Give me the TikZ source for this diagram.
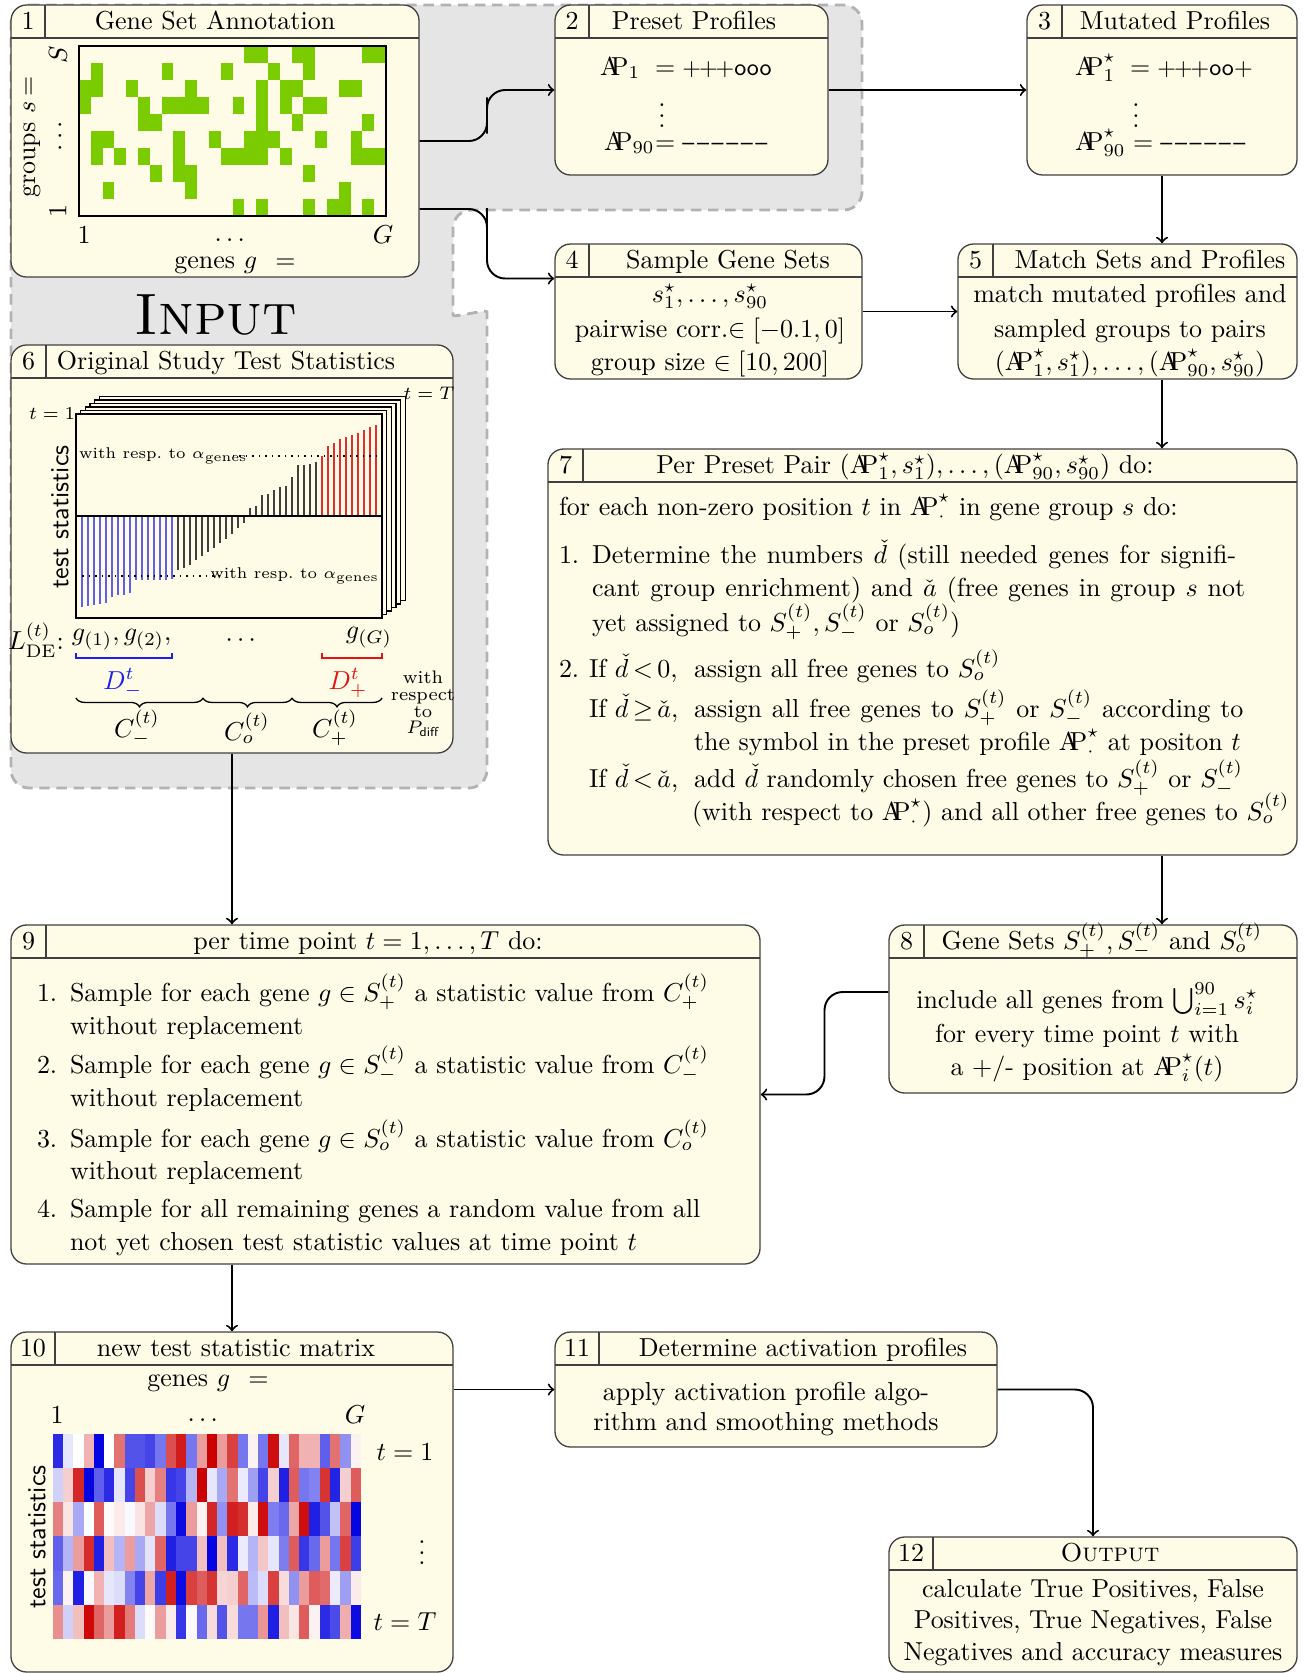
\documentclass[tikz,border=0pt]{standalone}
\usepackage{amsmath,amssymb}
\usepackage{fontspec}
\usetikzlibrary{fit,calc,decorations.pathreplacing}
\definecolor{boxfill}{RGB}{254,251,231}
\definecolor{inputgray}{RGB}{229,229,229}
\definecolor{dashgray}{RGB}{178,178,178}
\definecolor{gsgreen}{RGB}{122,204,0}
\definecolor{hmblue}{RGB}{5,5,225}
\definecolor{hmred}{RGB}{204,0,0}
\definecolor{barblue}{RGB}{95,95,235}
\definecolor{barred}{RGB}{228,45,45}
\definecolor{lblblue}{RGB}{30,30,240}
\definecolor{lblred}{RGB}{225,20,20}
\newcommand{\APs}{\mathrm{A\mkern-6mu P}}
\newcommand{\dashes}{\textsf{\small\textendash\kern1pt\textendash\kern1pt\textendash\kern1pt\textendash\kern1pt\textendash\kern1pt\textendash}}
\newcommand{\procbox}[9]{%
  \node[pbox, fit={(#2,#3) (#4,#5)}] (#1) {};
  \draw[pline] (#2,#3+33) -- (#4,#3+33);
  \draw[pline] (#6,#3) -- (#6,#3+33);
  \node[txt, anchor=base] (#1num) at ({(#2+#6)/2},#3+24.5) {#7};
  \node[txt, anchor=base] (#1tit) at (#8,#3+24.5) {#9};
}
\begin{document}
\begin{tikzpicture}[x=0.385pt,y=-0.385pt,
  pbox/.style={draw=black!75, fill=boxfill, rounded corners=6pt, inner sep=0pt, line width=0.5pt},
  pline/.style={draw=black!75, line width=0.5pt},
  txt/.style={inner sep=0pt, outer sep=0pt},
  conn/.style={->, line width=0.75pt, black},
  lw/.style={txt, anchor=base west},
  lc/.style={txt, anchor=base},
  tinylab/.style={txt, font=\fontsize{6}{7}\selectfont},
]
\useasboundingbox (0,0) rectangle (1311,1673);

% ---------- input region ----------
\filldraw[fill=inputgray, draw=dashgray, dash pattern=on 4pt off 2.6pt, line width=1.1pt, rounded corners=7pt]
 (11,5) -- (862,5) -- (862,210) -- (453,210) -- (453,297) .. controls (453,318) and (487,309) .. (487,330) -- (487,788) -- (11,788) -- cycle;
\node[lc, font=\fontsize{22.5}{27}\selectfont] (inlab) at (216,334) {\textsc{Input}};

% ---------- boxes ----------
\procbox{b1}{11}{5}{419}{277}{45}{1}{215}{Gene Set Annotation}
\procbox{b2}{555}{5}{828}{175}{589}{2}{694}{Preset Profiles}
\procbox{b3}{1027}{5}{1297}{175}{1062}{3}{1175}{Mutated Profiles}
\procbox{b4}{555}{244}{862}{379}{589}{4}{728}{Sample Gene Sets}
\procbox{b5}{958}{244}{1297}{379}{993}{5}{1150}{Match Sets and Profiles}
\procbox{b6}{11}{345}{453}{753}{46}{6}{226}{Original Study Test Statistics}
\procbox{b7}{548}{449}{1297}{855}{583}{7}{905}{Per Preset Pair $(\APs^\star_1,s^\star_1),\dots,(\APs^\star_{90},s^\star_{90})$ do:}
\procbox{b8}{889}{925}{1297}{1093}{924}{8}{1102}{Gene Sets $S^{(t)}_+, S^{(t)}_-$ and $S^{(t)}_o$}
\procbox{b9}{11}{925}{760}{1264}{46}{9}{368}{per time point $t=1,\dots,T$ do:}
\procbox{b10}{11}{1332}{453}{1672}{55}{10}{236}{new test statistic matrix}
\procbox{b11}{555}{1332}{997}{1447}{599}{11}{803}{Determine activation profiles}
\procbox{b12}{889}{1537}{1297}{1672}{933}{12}{1110}{\textsc{Output}}

% ---------- box 1: gene set annotation ----------
\foreach \cl [count=\r from 0] in {{14,15,18,19,24,25},{1,7,12,16,19},{0,1,4,9,15,17,18,22,23},{0,5,7,8,9,10,13,15,17,19,20},{5,6,15,18,24},{1,2,8,11,14,15,16,20,23},{1,3,5,8,12,13,14,15,17,23,24,25},{6,8,9,19},{2,9,22},{13,15,19,21,22,24}}
  \foreach \c in \cl
    \fill[gsgreen] ({79+\c*11.808},{46+\r*17}) rectangle ++(11.808,17);
\draw[line width=0.6pt] (79,46) rectangle (386,216);
\node[txt, rotate=90] (b1ylab) at (32,137) {groups $s$\hspace{2pt}$=$};
\node[txt, rotate=90] (b1S) at (58,55) {$S$};
\node[txt, rotate=90] (b1vd) at (60,134) {$\dots$};
\node[txt, rotate=90] (b1one) at (58,211) {$1$};
\node[txt] (b1x1) at (84,235) {$1$};
\node[txt] (b1xd) at (232,240) {$\dots$};
\node[txt] (b1G) at (383,235) {$G$};
\node[txt] (b1xlab) at (235,265) {genes $g$\hspace{7pt}$=$};

% ---------- box 2 / 3 ----------
\node[lw] (b2l1) at (600,75) {$\APs_1$};
\node[lw] (b2r1) at (655,75) {$=\textsf{\small +\kern-0.8pt+\kern-0.8pt+ooo}$};
\node[txt] (b2vd) at (662,108) {$\vdots$};
\node[lw] (b2l2) at (604,150) {$\APs_{90}$};
\node[lw] (b2r2) at (655,150) {$=\dashes$};
\node[lw] (b3l1) at (1075,75) {$\APs^\star_1$};
\node[lw] (b3r1) at (1130,75) {$=\textsf{\small +\kern-0.8pt+\kern-0.8pt+oo+}$};
\node[txt] (b3vd) at (1136,108) {$\vdots$};
\node[lw] (b3l2) at (1075,150) {$\APs^\star_{90}$};
\node[lw] (b3r2) at (1133,150) {$=\dashes$};

% ---------- box 4 / 5 ----------
\node[lc] (b4a) at (710,302) {$s^\star_1,\dots,s^\star_{90}$};
\node[lc] (b4b) at (710,337) {pairwise corr.$\in[-0.1,0]$};
\node[lc] (b4c) at (710,370) {group size $\in[10,200]$};
\node[lc] (b5a) at (1130,302) {match mutated profiles and};
\node[lc] (b5b) at (1130,337) {sampled groups to pairs};
\node[lc] (b5c) at (1130,370) {$(\APs^\star_1,s^\star_1),\dots,(\APs^\star_{90},s^\star_{90})$};

% ---------- box 6: original test statistics ----------
\foreach \k in {5,4,3,2,1}
  \filldraw[fill=boxfill, draw=black, line width=0.5pt] ({76+4.7*\k},{414-3.5*\k}) rectangle ({382+4.7*\k},{618-3.5*\k});
\filldraw[fill=boxfill, draw=black, line width=0.6pt] (76,414) rectangle (382,618);
\foreach \h [count=\i from 0] in {-90.7,-90,-89,-88.3,-87.3,-80.7,-79.3,-78.7,-77.3,-64,-64,-64,-64,-63.7,-63.7,-63.3,-54,-52,-49,-44,-40,-36,-32,-27,-23,-18,-12,-7,7.7,10,21,22,26,28.7,30,39,50.7,51,52,54,60,70,72.7,76.7,78.7,81,83.3,86,88.7,91}{
  \ifnum\i<16 \def\bc{barblue}\else\ifnum\i<40 \def\bc{black!75}\else\def\bc{barred}\fi\fi
  \draw[\bc, line width=0.55pt] ({82+6*\i},516) -- ({82+6*\i},{516-(\h)});
}
\draw[line width=0.5pt] (76,516) -- (382,516);
\draw[dotted, line width=0.5pt] (233,456) -- (377,456);
\draw[dotted, line width=0.5pt] (76,576) -- (220,576);
\node[tinylab, anchor=west] (b6up) at (79,456) {with resp.\ to $\alpha_{\mathrm{genes}}$};
\node[tinylab, anchor=east] (b6lo) at (379,576) {with resp.\ to $\alpha_{\mathrm{genes}}$};
\node[txt, font=\scriptsize] (b6t1) at (52,414) {$t=1$};
\node[txt, font=\scriptsize] (b6tT) at (429,393) {$t=T$};
\node[txt, rotate=90, font=\sffamily] (b6ylab) at (60,517) {test statistics};
\node[txt] (b6L) at (36,640) {$L^{(t)}_{\mathrm{DE}}$:};
\node[txt, anchor=west] (b6g) at (72,640) {$g_{(1)}, g_{(2)},$};
\node[txt] (b6dots) at (243,641) {$\cdots$};
\node[txt] (b6gG) at (369,638) {$g_{(G)}$};
\draw[lblblue, line width=0.6pt] (76,653) -- (76,658) -- (172,658) -- (172,653);
\draw[lblred, line width=0.6pt] (322,653) -- (322,658) -- (382,658) -- (382,653);
\node[txt, text=lblblue] (b6dm) at (123,683) {$D^t_-$};
\node[txt, text=lblred] (b6dp) at (348,683) {$D^t_+$};
\draw[decorate, decoration={brace, mirror, amplitude=3.4pt}, line width=0.5pt] (76,698) -- (203,698);
\draw[decorate, decoration={brace, mirror, amplitude=3.4pt}, line width=0.5pt] (203,698) -- (292,698);
\draw[decorate, decoration={brace, mirror, amplitude=3.4pt}, line width=0.5pt] (292,698) -- (382,698);
\node[txt] (b6cm) at (137,728) {$C^{(t)}_-$};
\node[txt] (b6co) at (247,728) {$C^{(t)}_o$};
\node[txt] (b6cp) at (335,728) {$C^{(t)}_+$};
\node[txt, align=center, font=\scriptsize] (b6wr) at (423,704) {with\\[-1.6pt]respect\\[-1.6pt]to\\[-1.6pt]$P_{\textsf{diff}}$};

% ---------- box 7 ----------
\node[lw] (b7a) at (559,515) {for each non-zero position $t$ in $\APs^\star_\cdot$ in gene group $s$ do:};
\node[lw] (b7n1) at (559,563) {1.};
\node[lw] (b7b) at (592,563) {\makebox[248pt][s]{Determine the numbers $\check d$ (still needed genes for signifi-}};
\node[lw] (b7c) at (592,596) {\makebox[251.5pt][s]{cant group enrichment) and $\check a$ (free genes in group $s$ not}};
\node[lw] (b7d) at (592,631) {yet assigned to $S^{(t)}_+, S^{(t)}_-$ or $S^{(t)}_o$)};
\node[lw] (b7n2) at (559,677) {2.};
\node[lw] (b7e1) at (589,677) {If $\check d\mkern-2mu<\mkern-2mu0,$};
\node[lw] (b7e2) at (694,677) {assign all free genes to $S^{(t)}_o$};
\node[lw] (b7f1) at (589,717) {If $\check d\mkern-2mu\geq\mkern-2mu\check a,$};
\node[lw] (b7f2) at (694,717) {\makebox[211.5pt][s]{assign all free genes to $S^{(t)}_+$ or $S^{(t)}_-$ according to}};
\node[lw] (b7g) at (694,750) {the symbol in the preset profile $\APs^\star_\cdot$ at positon $t$};
\node[lw] (b7h1) at (589,787) {If $\check d\mkern-2mu<\mkern-2mu\check a,$};
\node[lw] (b7h2) at (694,787) {add $\check d$ randomly chosen free genes to $S^{(t)}_+$ or $S^{(t)}_-$};
\node[lw] (b7i) at (692,820) {(with respect to $\APs^\star_\cdot$) and all other free genes to $S^{(t)}_o$};

% ---------- box 8 ----------
\node[lc] (b8a) at (1087,1008) {include all genes from $\bigcup_{i=1}^{90} s^\star_i$};
\node[lc] (b8b) at (1087,1042) {for every time point $t$ with};
\node[lc] (b8c) at (1087,1075) {a \textsf{+/-} position at $\APs^\star_i(t)$};

% ---------- box 9 ----------
\node[lw] (b9n1) at (37,1001) {1.};
\node[lw] (b9a1) at (70,1001) {\makebox[246pt][s]{Sample for each gene $g\in S^{(t)}_+$ a statistic value from $C^{(t)}_+$}};
\node[lw] (b9a2) at (70,1034) {without replacement};
\node[lw] (b9n2) at (37,1073) {2.};
\node[lw] (b9b1) at (70,1073) {\makebox[246pt][s]{Sample for each gene $g\in S^{(t)}_-$ a statistic value from $C^{(t)}_-$}};
\node[lw] (b9b2) at (70,1106) {without replacement};
\node[lw] (b9n3) at (37,1147) {3.};
\node[lw] (b9c1) at (70,1147) {\makebox[246pt][s]{Sample for each gene $g\in S^{(t)}_o$ a statistic value from $C^{(t)}_o$}};
\node[lw] (b9c2) at (70,1179) {without replacement};
\node[lw] (b9n4) at (37,1217) {4.};
\node[lw] (b9d1) at (70,1217) {Sample for all remaining genes a random value from all};
\node[lw] (b9d2) at (70,1250) {not yet chosen test statistic values at time point $t$};

% ---------- box 10: heat map ----------
\foreach \row [count=\r from 0] in {
 {-0.85,-0.1,0,0.3,-1,0,0.55,-0.7,-0.7,-0.75,-0.55,0.7,0.9,-0.55,0.4,1,0.4,0.75,-0.55,0.05,-0.55,0.95,-0.1,0.6,0.3,0.3,-0.65,0.55,-0.45,0.05},
 {-0.2,0.2,0.85,-1,-0.65,-0.85,-0.1,-0.75,0.7,0.2,0.5,-0.8,-0.75,-0.3,1,-0.1,-0.35,0.55,-0.08,-0.4,-0.75,0.2,-0.9,0.65,-0.55,-0.5,0.8,-0.88,0.2,0.65},
 {0.5,0.1,-0.35,0,0.65,0.02,0.08,-0.03,0.12,0.35,-0.15,-0.55,-0.98,0.4,0.05,0.85,-0.45,0.88,0.82,0.08,0.95,-0.52,-0.6,0.35,0.95,-0.9,-0.7,-0.25,0.6,-1},
 {-0.65,-0.3,0.4,0.83,-0.9,0.25,-0.3,0.4,-0.35,-0.12,0.6,-0.9,-0.75,-0.75,0.25,-1,0.25,-0.85,-0.08,-0.3,0.22,-0.1,-0.52,0.65,-0.8,-0.6,0.4,-0.55,0.75,-0.78},
 {-0.6,0.05,-0.9,-0.03,0.3,-0.1,-0.15,-0.5,-0.75,0.35,-0.78,0.88,-0.98,0.75,0.65,0.8,0.18,0.2,0.6,-0.27,-0.15,0.75,0.15,-0.45,0.4,0.65,0.58,-0.08,-0.4,0.08},
 {0.45,-0.2,0.25,0.97,0.6,0.4,0.88,0.52,-0.15,0.02,0.4,0.08,-0.8,0.03,-0.6,0.15,-0.7,0.15,-0.55,-0.55,0.42,-0.9,0.25,0.1,0.65,0.05,-0.85,-0.72,0.32,-0.98}}
{
  \foreach \v [count=\c from 0] in \row {
    \pgfmathtruncatemacro\pc{abs(\v)*100}
    \ifdim \v pt<0pt \def\hc{hmblue}\else\def\hc{hmred}\fi
    \fill[\hc!\pc!white] ({53+\c*10.267-0.2},{1434+\r*34.17-0.2}) rectangle ++(10.667,34.57);
  }
}
\node[txt] (b10xlab) at (208,1383) {genes $g$\hspace{7pt}$=$};
\node[txt] (b10x1) at (57,1415) {$1$};
\node[txt] (b10xd) at (205,1420) {$\dots$};
\node[txt] (b10G) at (355,1415) {$G$};
\node[txt] (b10t1) at (405,1452) {$t=1$};
\node[txt] (b10vd) at (422,1545) {$\vdots$};
\node[txt] (b10tT) at (405,1622) {$t=T$};
\node[txt, rotate=90, font=\sffamily] (b10ylab) at (37,1537) {test statistics};

% ---------- box 11 / 12 ----------
\node[lc] (b11a) at (766,1400) {apply activation profile algo-};
\node[lc] (b11b) at (766,1430) {rithm and smoothing methods};
\node[lc] (b12a) at (1093,1597) {calculate True Positives, False};
\node[lc] (b12b) at (1093,1628) {Positives, True Negatives, False};
\node[lc] (b12c) at (1093,1660) {Negatives and accuracy measures};

% ---------- connectors ----------
\draw[conn, rounded corners=7pt] (b1.east) -| ($(b1.east)!0.5!(b2.west)$) |- (b2.west);
\draw[conn, rounded corners=7pt] ($(b1.east)+(0,68)$) -| ($(b1.east)!0.5!(b4.west)$) |- ($(b4.west)+(0,-33)$);
\draw[conn] (b2.east) -- (b3.west);
\draw[conn] (b3.south) -- (b3.south |- b5.north);
\draw[conn] (b4.east) -- (b5.west);
\draw[conn] (b5.south -| b3.south) -- (b7.north -| b3.south);
\draw[conn] (b7.south -| b3.south) -- (b8.north -| b3.south);
\draw[conn] (b6.south) -- (b6.south |- b9.north);
\draw[conn, rounded corners=7pt] ($(b8.west)+(0,-17)$) -| ($(b8.west)!0.5!(b9.east)$) |- (b9.east);
\draw[conn] (b10.north |- b9.south) -- (b10.north);
\draw[conn] (b10.east |- b11.west) -- (b11.west);
\draw[conn, rounded corners=7pt] (b11.east) -| (b12.north);
\end{tikzpicture}
\end{document}
